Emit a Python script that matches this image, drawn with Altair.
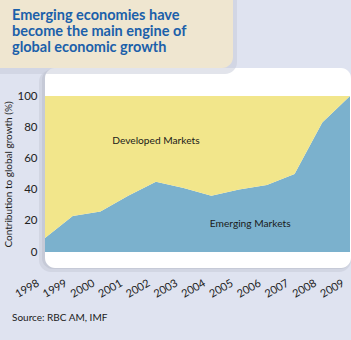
import altair as alt
import pandas as pd

years = [1998, 1999, 2000, 2001, 2002, 2003, 2004, 2005, 2006, 2007, 2008, 2009]
emerging = [9, 23, 26, 36, 45, 41, 36, 40, 43, 50, 83, 100]
developed = [91, 77, 74, 64, 55, 59, 64, 60, 57, 50, 17, 0]
series_names = ["Emerging Markets", "Developed Markets"]
y_ticks = [0, 20, 40, 60, 80, 100]
label_pos = [(2005.4, 18.0), (2002.0, 71.0)]
title_lines = ["Emerging economies have", "become the main engine of", "global economic growth"]
y_title = "Contribution to global growth (%)"
source = "Source: RBC AM, IMF"

FONT = "Lato"
TFONT = "Lato"

rows = []
for i, y in enumerate(years):
    rows.append({"year": y, "series": series_names[0], "value": emerging[i], "ord": 0})
    rows.append({"year": y, "series": series_names[1], "value": developed[i], "ord": 1})
df = pd.DataFrame(rows)

W, H = 305, 156
one = alt.Data(values=[{}])

def box(x, x2, y, y2, color, radius=0, opacity=1.0):
    return alt.Chart(one).mark_rect(color=color, cornerRadius=radius, opacity=opacity).encode(
        x=alt.value(x), x2=alt.value(x2), y=alt.value(y), y2=alt.value(y2))

shadow1 = box(-6, 306, -26, 176, "#b9bdcc", 12, 0.35)
shadow2 = box(-3, 306, -27, 173, "#b9bdcc", 11, 0.5)
panel = box(0, 306, -28, 172, "#ffffff", 10)
tshadow = box(-60, 192, -120, -22, "#c6cad8", 12, 0.5)
tbox = box(-60, 188, -120, -28, "#efe6d0", 11)

area = alt.Chart(df).mark_area(opacity=1).encode(
    x=alt.X("year:Q", scale=alt.Scale(domain=[1998, 2009], nice=False, zero=False),
            axis=alt.Axis(values=years, tickCount=12, format="d", title=None, labelAngle=-30,
                          labelAlign="right", labelBaseline="top", labelPadding=25,
                          labelOffset=-10,
                          labelOverlap=False, labelBound=False, labelFlush=False,
                          ticks=False, domain=False, grid=False,
                          labelFont=FONT, labelFontSize=11, labelColor="#222")),
    y=alt.Y("value:Q", stack="zero", scale=alt.Scale(domain=[0, 100], nice=False),
            axis=alt.Axis(values=y_ticks, tickCount=6, title=y_title, ticks=False,
                          labelOverlap=False, labelFlush=False,
                          domain=False, grid=False, labelPadding=8, labelFont=FONT,
                          labelFontSize=11.5, labelColor="#222", titleFont=FONT,
                          titleFontSize=10, titleFontWeight="normal", titleColor="#222",
                          titlePadding=3)),
    color=alt.Color("series:N", scale=alt.Scale(domain=series_names,
                                                 range=["#7bb1cd", "#f2e68b"]), legend=None),
    order=alt.Order("ord:Q"),
)

lab_df = pd.DataFrame({"x": [p[0] for p in label_pos], "y": [p[1] for p in label_pos],
                       "t": series_names})
labels = alt.Chart(lab_df).mark_text(font=FONT, fontSize=10.2, color="#1a1a1a").encode(
    x="x:Q", y="y:Q", text="t:N")

title = alt.Chart(one).mark_text(
    text=title_lines, lineHeight=16, align="left", baseline="top",
    font=TFONT, fontSize=14.5, fontWeight="bold", color="#1b60aa").encode(
    x=alt.value(-33), y=alt.value(-87))

src = alt.Chart(one).mark_text(text=source, align="left", baseline="middle",
                               font=FONT, fontSize=10, color="#1a1a1a").encode(
    x=alt.value(-33), y=alt.value(222))

chart = alt.layer(shadow1, shadow2, panel, tshadow, tbox, area, labels, title, src).properties(
    width=W, height=H,
    autosize=alt.AutoSizeParams(type="none"),
    padding={"left": 45, "top": 96, "right": 1, "bottom": 88},
    background="#dfe3f0",
).configure_view(stroke=None).configure_axis(labelOverlap=False)

chart.save("out.html", embed_options={"renderer": "svg", "actions": False})
